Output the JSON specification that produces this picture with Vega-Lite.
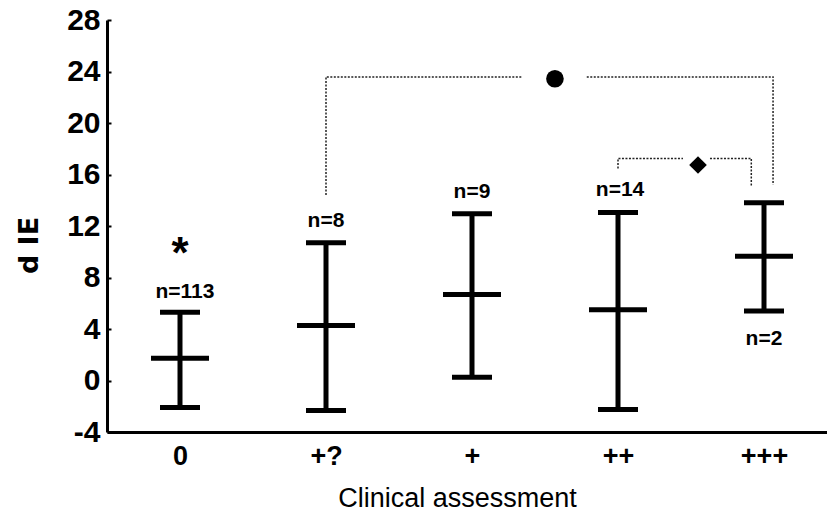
{
  "$schema": "https://vega.github.io/schema/vega-lite/v6.json",
  "autosize": {"type": "none"},
  "padding": {"left": 107, "top": 20, "right": 0, "bottom": 86},
  "width": 720,
  "height": 412,
  "background": "white",
  "config": {"view": {"stroke": null}},
  "datasets": {
    "bars": [
      {"cat": "0", "pos": 0, "mean": 1.73, "low": -2.1, "high": 5.3},
      {"cat": "+?", "pos": 1, "mean": 4.27, "low": -2.33, "high": 10.7},
      {"cat": "+", "pos": 2, "mean": 6.68, "low": 0.26, "high": 12.95},
      {"cat": "++", "pos": 3, "mean": 5.49, "low": -2.25, "high": 13.05},
      {"cat": "+++", "pos": 4, "mean": 9.66, "low": 5.39, "high": 13.8}
    ],
    "labels": [
      {"pos": 0.034, "y": 6.37, "text": "n=113"},
      {"pos": 1, "y": 11.9, "text": "n=8"},
      {"pos": 2, "y": 14.2, "text": "n=9"},
      {"pos": 3.014, "y": 14.3, "text": "n=14"},
      {"pos": 4, "y": 2.72, "text": "n=2"}
    ],
    "brackets": [
      {"seg": "A", "ord": 0, "pos": 1.0, "y": 14.4},
      {"seg": "A", "ord": 1, "pos": 1.0, "y": 23.58},
      {"seg": "A", "ord": 2, "pos": 2.34, "y": 23.58},
      {"seg": "B", "ord": 0, "pos": 2.786, "y": 23.58},
      {"seg": "B", "ord": 1, "pos": 4.062, "y": 23.58},
      {"seg": "B", "ord": 2, "pos": 4.062, "y": 15.2},
      {"seg": "C", "ord": 0, "pos": 3.0, "y": 16.47},
      {"seg": "C", "ord": 1, "pos": 3.0, "y": 17.25},
      {"seg": "C", "ord": 2, "pos": 3.445, "y": 17.25},
      {"seg": "D", "ord": 0, "pos": 3.63, "y": 17.25},
      {"seg": "D", "ord": 1, "pos": 3.913, "y": 17.25},
      {"seg": "D", "ord": 2, "pos": 3.913, "y": 15.15}
    ],
    "markers": [
      {"pos": 2.568, "y": 23.44, "shape": "circle"},
      {"pos": 3.548, "y": 16.74, "shape": "diamond"}
    ],
    "stars": [
      {"pos": 0.0, "y": 8.7, "text": "*"}
    ]
  },
  "encoding": {
    "x": {
      "field": "pos", "type": "quantitative",
      "scale": {"domain": [-0.5, 4.4315], "nice": false, "zero": false},
      "axis": {
        "values": [0, 1, 2, 3, 4],
        "labelExpr": "['0','+?','+','++','+++'][datum.value]",
        "grid": false, "ticks": false, "labelFlush": false,
        "labelFont": "Liberation Sans", "labelFontWeight": "bold", "labelFontSize": 27,
        "labelColor": "black", "labelPadding": 11,
        "domainColor": "black", "domainWidth": 3,
        "title": "Clinical assessment",
        "titleFont": "Liberation Sans", "titleFontWeight": "normal", "titleFontSize": 27,
        "titleColor": "black", "titleX": 350, "titleY": 66, "titleAlign": "center", "titleBaseline": "middle"
      }
    },
    "y": {
      "type": "quantitative",
      "scale": {"domain": [-4, 28], "nice": false, "zero": false},
      "axis": {
        "values": [-4, 0, 4, 8, 12, 16, 20, 24, 28],
        "labelExpr": "toString(datum.value)",
        "grid": false, "labelFlush": false,
        "labelFont": "Liberation Sans", "labelFontWeight": "bold", "labelFontSize": 30,
        "labelColor": "black", "labelPadding": 11,
        "ticks": true, "tickSize": -4, "tickWidth": 2, "tickColor": "black",
        "domainColor": "black", "domainWidth": 3,
        "title": "d IE",
        "titleFont": "DejaVu Sans", "titleFontWeight": "bold", "titleFontSize": 27,
        "titleColor": "black", "titleX": -78, "titleY": 225, "titleAlign": "center", "titleBaseline": "middle", "titleAngle": 270
      }
    }
  },
  "layer": [
    {
      "data": {"name": "brackets"},
      "mark": {"type": "line", "strokeDash": [2, 1.5], "strokeWidth": 1.5, "color": "#222222"},
      "encoding": {
        "y": {"field": "y", "type": "quantitative"},
        "detail": {"field": "seg"},
        "order": {"field": "ord"}
      }
    },
    {
      "data": {"name": "bars"},
      "mark": {"type": "rule", "strokeWidth": 5, "color": "black"},
      "encoding": {
        "y": {"field": "low", "type": "quantitative"},
        "y2": {"field": "high"}
      }
    },
    {
      "data": {"name": "bars"},
      "mark": {"type": "tick", "orient": "horizontal", "size": 40, "thickness": 5, "color": "black", "opacity": 1},
      "encoding": {"y": {"field": "low", "type": "quantitative"}}
    },
    {
      "data": {"name": "bars"},
      "mark": {"type": "tick", "orient": "horizontal", "size": 40, "thickness": 5, "color": "black", "opacity": 1},
      "encoding": {"y": {"field": "high", "type": "quantitative"}}
    },
    {
      "data": {"name": "bars"},
      "mark": {"type": "tick", "orient": "horizontal", "size": 58, "thickness": 5, "color": "black", "opacity": 1},
      "encoding": {"y": {"field": "mean", "type": "quantitative"}}
    },
    {
      "data": {"name": "labels"},
      "mark": {"type": "text", "font": "Liberation Sans", "fontWeight": "bold", "fontSize": 21, "baseline": "alphabetic", "align": "center", "color": "black"},
      "encoding": {
        "y": {"field": "y", "type": "quantitative"},
        "text": {"field": "text"}
      }
    },
    {
      "data": {"name": "stars"},
      "mark": {"type": "text", "font": "Liberation Sans", "fontWeight": "bold", "fontSize": 44, "baseline": "alphabetic", "align": "center", "color": "black"},
      "encoding": {
        "y": {"field": "y", "type": "quantitative"},
        "text": {"field": "text"}
      }
    },
    {
      "data": {"name": "markers"},
      "mark": {"type": "point", "filled": true, "color": "black", "opacity": 1, "size": 310},
      "encoding": {
        "y": {"field": "y", "type": "quantitative"},
        "shape": {"field": "shape", "type": "nominal", "scale": {"domain": ["circle", "diamond"], "range": ["circle", "diamond"]}, "legend": null}
      }
    }
  ]
}
